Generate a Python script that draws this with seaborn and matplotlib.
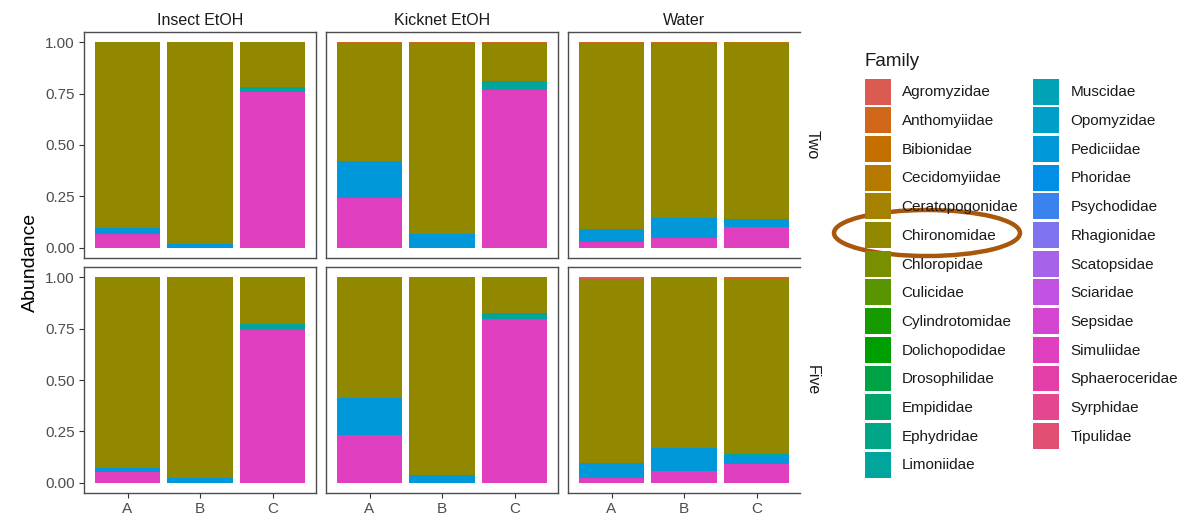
import numpy as np
import pandas as pd
import matplotlib
matplotlib.use("Agg")
import matplotlib.pyplot as plt
from matplotlib.patches import Patch, Ellipse
import seaborn as sns

# ---------------- data ----------------
families = ["Agromyzidae", "Anthomyiidae", "Bibionidae", "Cecidomyiidae", "Ceratopogonidae",
            "Chironomidae", "Chloropidae", "Culicidae", "Cylindrotomidae", "Dolichopodidae",
            "Drosophilidae", "Empididae", "Ephydridae", "Limoniidae", "Muscidae", "Opomyzidae",
            "Pediciidae", "Phoridae", "Psychodidae", "Rhagionidae", "Scatopsidae", "Sciaridae",
            "Sepsidae", "Simuliidae", "Sphaeroceridae", "Syrphidae", "Tipulidae"]

methods = ["Insect EtOH", "Kicknet EtOH", "Water"]
depths = ["Two", "Five"]
sites = ["A", "B", "C"]

depth = ["Two"] * 9 + ["Five"] * 9
method = (["Insect EtOH"] * 3 + ["Kicknet EtOH"] * 3 + ["Water"] * 3) * 2
site = ["A", "B", "C"] * 6

agromyzidae   = [0, 0, 0,  0, 0, 0,  0, 0, 0,      0, 0, 0,  0, 0, 0,  0.006, 0, 0]
anthomyiidae  = [0, 0, 0,  0.005, 0.005, 0.005,  0.005, 0.005, 0,   0, 0, 0,  0.005, 0.005, 0.005,  0, 0.005, 0.008]
cecidomyiidae = [0, 0, 0,  0, 0, 0,  0, 0, 0.006,  0, 0, 0,  0, 0, 0,  0, 0, 0]
chironomidae  = [0.905, 0.984, 0.220,  0.572, 0.930, 0.182,  0.905, 0.850, 0.854,
                 0.927, 0.979, 0.226,  0.584, 0.958, 0.169,  0.896, 0.828, 0.852]
limoniidae    = [0, 0, 0.020,  0, 0, 0.044,  0, 0, 0,   0, 0, 0.029,  0, 0, 0.029,  0, 0, 0.005]
pediciidae    = [0.030, 0.016, 0,  0.179, 0.065, 0,  0.064, 0.098, 0.040,
                 0.019, 0.021, 0,  0.178, 0.037, 0,  0.074, 0.110, 0.046]
simuliidae    = [0.065, 0, 0.760,  0.244, 0, 0.769,  0.026, 0.047, 0.100,
                 0.054, 0, 0.745,  0.233, 0, 0.797,  0.024, 0.057, 0.089]

df = pd.DataFrame({"Depth": depth, "Method": method, "Site": site})
for f in families:
    df[f] = 0.0
df["Agromyzidae"] = agromyzidae
df["Anthomyiidae"] = anthomyiidae
df["Cecidomyiidae"] = cecidomyiidae
df["Chironomidae"] = chironomidae
df["Limoniidae"] = limoniidae
df["Pediciidae"] = pediciidae
df["Simuliidae"] = simuliidae


# ---------------- hue palette (HCL, as in ggplot) ----------------
def hcl_hex(h, c=100.0, l=55.0):
    Xn, Yn, Zn = 95.047, 100.0, 108.883
    hr = np.deg2rad(h)
    U, V = c * np.cos(hr), c * np.sin(hr)
    Y = Yn * ((l + 16) / 116) ** 3
    den = Xn + 15 * Yn + 3 * Zn
    un, vn = 4 * Xn / den, 9 * Yn / den
    u, v = U / (13 * l) + un, V / (13 * l) + vn
    X = 9 * Y * u / (4 * v)
    Z = 3 * Y / v - 5 * Y - X / 3
    M = np.array([[3.240479, -1.537150, -0.498535],
                  [-0.969256, 1.875992, 0.041556],
                  [0.055648, -0.204043, 1.057311]])
    rgb = M @ np.array([X, Y, Z]) / 100.0
    rgb = np.clip(rgb, 0, None)
    rgb = np.where(rgb <= 0.0031308, 12.92 * rgb, 1.055 * rgb ** (1 / 2.4) - 0.055)
    rgb = np.clip(rgb, 0, 1)
    return matplotlib.colors.to_hex(rgb)


n = len(families)
palette = {f: hcl_hex(15 + i * 360.0 / n) for i, f in enumerate(families)}

# ---------------- plotting ----------------
sns.set_style("white")
plt.rcParams["font.family"] = ["Liberation Sans", "DejaVu Sans"]

W, H = 1198, 520
fig = plt.figure(figsize=(W / 100, H / 100), dpi=100)

panel_x = [84, 326, 568]
panel_w = 232
panel_y = [32, 267]
panel_h = 226

tick_col = "#4D4D4D"
for r, dep in enumerate(depths):
    for c, met in enumerate(methods):
        ax = fig.add_axes([panel_x[c] / W, 1 - (panel_y[r] + panel_h) / H, panel_w / W, panel_h / H])
        sub = df[(df.Depth == dep) & (df.Method == met)].set_index("Site").loc[sites].reset_index()
        bottom = np.zeros(len(sites))
        for f in families[::-1]:
            vals = sub[f].to_numpy(dtype=float)
            if vals.sum() <= 0:
                continue
            sns.barplot(data=sub, x="Site", y=f, order=sites, color=palette[f], saturation=1,
                        bottom=bottom.copy(), width=0.9, errorbar=None, linewidth=0, ax=ax)
            bottom = bottom + vals
        ax.set_xlim(-0.6, 2.6)
        ax.set_ylim(-0.05, 1.05)
        ax.set_xlabel("")
        ax.set_ylabel("")
        ax.set_yticks([0, 0.25, 0.5, 0.75, 1.0])
        ax.set_xticks(range(len(sites)))
        ax.tick_params(axis="both", colors="#333333", labelcolor=tick_col, labelsize=11,
                       length=3.5, width=0.8, direction="out", pad=3)
        if c == 0:
            ax.set_yticklabels(["0.00", "0.25", "0.50", "0.75", "1.00"])
            ax.tick_params(axis="y", left=True)
        else:
            ax.tick_params(axis="y", left=False, labelleft=False)
        if r == 1:
            ax.set_xticklabels(sites)
            ax.tick_params(axis="x", bottom=True)
        else:
            ax.tick_params(axis="x", bottom=False, labelbottom=False)
        for name, s in ax.spines.items():
            s.set_visible(True)
            s.set_color("#4D4D4D")
            s.set_linewidth(1.0)
        if c == 2:
            ax.spines["right"].set_visible(False)
        if r == 0:
            ax.set_title(met, fontsize=11.5, color="#1A1A1A", pad=5)
        if c == 2:
            ax.text(1 + 12 / panel_w, 0.5, dep, rotation=-90, transform=ax.transAxes,
                    ha="center", va="center", fontsize=11.5, color="#1A1A1A")

fig.text(30 / W, 1 - 262 / H, "Abundance", rotation=90, ha="center", va="center",
         fontsize=14, color="#000000")

handles = [Patch(facecolor=palette[f], edgecolor="none") for f in families]
leg = fig.legend(handles, families, ncol=2, loc="upper left",
                 bbox_to_anchor=(857 / W, 1 - 71 / H), frameon=False,
                 fontsize=11,
                 handlelength=1.7, handleheight=2.238, labelspacing=0.178,
                 handletextpad=0.72, columnspacing=0.98, borderpad=0)
for t in leg.get_texts():
    t.set_color("#1A1A1A")
fig.text(865 / W, 1 - 61 / H, "Family", ha="left", va="center", fontsize=13.5, color="#1A1A1A")

ell = Ellipse((927 / W, 1 - 233 / H), 186 / W, 46 / H, transform=fig.transFigure,
              fill=False, edgecolor="#A8570C", linewidth=3.2)
fig.patches.append(ell)

fig.savefig("out.png", dpi=100)
